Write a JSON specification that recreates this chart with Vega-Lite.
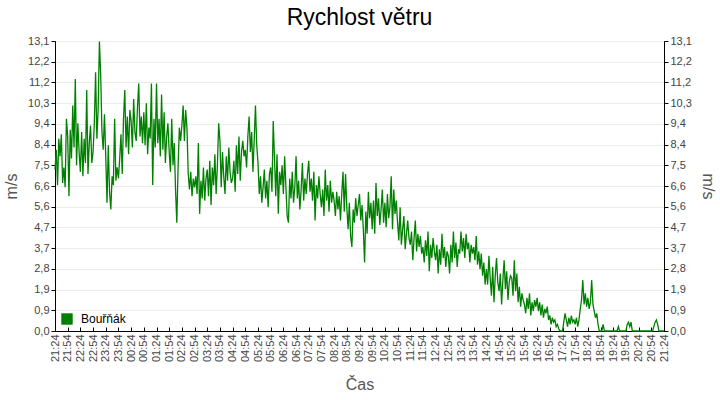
{
"$schema": "https://vega.github.io/schema/vega-lite/v6.json",
"width": 609,
"height": 290,
"autosize": {"type": "none"},
"padding": {"left": 55, "top": 41, "right": 56, "bottom": 69},
"background": "white",
"title": {"text": "Rychlost větru", "font": "Liberation Sans", "fontSize": 23, "fontWeight": "normal", "color": "#000000", "offset": 5},
"config": {
  "view": {"stroke": "#000000", "strokeWidth": 1},
  "axis": {"labelFont": "Liberation Sans", "labelFontSize": 11, "labelColor": "#444444", "titleFont": "Liberation Sans", "titleFontSize": 16, "titleFontWeight": "normal", "titleColor": "#555555", "domainColor": "#000000", "tickColor": "#000000", "gridColor": "#ebebeb"},
  "axisX": {"labelOverlap": false}
},
"data": {"values": [
{"t":"2024-06-15T21:24","v":7.3},{"t":"2024-06-15T21:27","v":8.2},{"t":"2024-06-15T21:30","v":6.6},{"t":"2024-06-15T21:33","v":8.7},{"t":"2024-06-15T21:36","v":7.9},{"t":"2024-06-15T21:39","v":8.9},{"t":"2024-06-15T21:42","v":6.7},{"t":"2024-06-15T21:45","v":7.4},{"t":"2024-06-15T21:48","v":6.5},{"t":"2024-06-15T21:51","v":9.6},
{"t":"2024-06-15T21:54","v":8.8},{"t":"2024-06-15T21:57","v":6.1},{"t":"2024-06-15T22:00","v":9.1},{"t":"2024-06-15T22:03","v":7.8},{"t":"2024-06-15T22:06","v":10.2},{"t":"2024-06-15T22:09","v":8.3},{"t":"2024-06-15T22:12","v":11.4},{"t":"2024-06-15T22:15","v":7.5},{"t":"2024-06-15T22:18","v":9.4},{"t":"2024-06-15T22:21","v":8.1},
{"t":"2024-06-15T22:24","v":7.2},{"t":"2024-06-15T22:27","v":9.0},{"t":"2024-06-15T22:30","v":7.0},{"t":"2024-06-15T22:33","v":8.7},{"t":"2024-06-15T22:36","v":7.6},{"t":"2024-06-15T22:39","v":10.9},{"t":"2024-06-15T22:42","v":7.1},{"t":"2024-06-15T22:45","v":8.5},{"t":"2024-06-15T22:48","v":9.3},{"t":"2024-06-15T22:51","v":7.6},
{"t":"2024-06-15T22:54","v":8.1},{"t":"2024-06-15T22:57","v":9.4},{"t":"2024-06-15T23:00","v":11.7},{"t":"2024-06-15T23:03","v":8.7},{"t":"2024-06-15T23:06","v":10.0},{"t":"2024-06-15T23:09","v":13.1},{"t":"2024-06-15T23:12","v":11.6},{"t":"2024-06-15T23:15","v":9.0},{"t":"2024-06-15T23:18","v":8.2},{"t":"2024-06-15T23:21","v":9.8},
{"t":"2024-06-15T23:24","v":7.9},{"t":"2024-06-15T23:27","v":5.8},{"t":"2024-06-15T23:30","v":8.4},{"t":"2024-06-15T23:33","v":6.3},{"t":"2024-06-15T23:36","v":5.5},{"t":"2024-06-15T23:39","v":7.0},{"t":"2024-06-15T23:42","v":6.6},{"t":"2024-06-15T23:45","v":9.6},{"t":"2024-06-15T23:48","v":6.8},{"t":"2024-06-15T23:51","v":7.4},
{"t":"2024-06-15T23:54","v":6.9},{"t":"2024-06-15T23:57","v":7.8},{"t":"2024-06-16T00:00","v":8.9},{"t":"2024-06-16T00:03","v":7.1},{"t":"2024-06-16T00:06","v":9.6},{"t":"2024-06-16T00:09","v":10.9},{"t":"2024-06-16T00:12","v":8.3},{"t":"2024-06-16T00:15","v":9.7},{"t":"2024-06-16T00:18","v":8.0},{"t":"2024-06-16T00:21","v":10.0},
{"t":"2024-06-16T00:24","v":9.5},{"t":"2024-06-16T00:27","v":8.3},{"t":"2024-06-16T00:30","v":10.5},{"t":"2024-06-16T00:33","v":9.0},{"t":"2024-06-16T00:36","v":8.6},{"t":"2024-06-16T00:39","v":10.1},{"t":"2024-06-16T00:42","v":11.2},{"t":"2024-06-16T00:45","v":8.8},{"t":"2024-06-16T00:48","v":9.7},{"t":"2024-06-16T00:51","v":8.5},
{"t":"2024-06-16T00:54","v":9.9},{"t":"2024-06-16T00:57","v":8.4},{"t":"2024-06-16T01:00","v":10.3},{"t":"2024-06-16T01:03","v":8.0},{"t":"2024-06-16T01:06","v":9.2},{"t":"2024-06-16T01:09","v":8.7},{"t":"2024-06-16T01:12","v":11.2},{"t":"2024-06-16T01:15","v":6.6},{"t":"2024-06-16T01:18","v":9.6},{"t":"2024-06-16T01:21","v":8.3},
{"t":"2024-06-16T01:24","v":11.2},{"t":"2024-06-16T01:27","v":8.5},{"t":"2024-06-16T01:30","v":9.6},{"t":"2024-06-16T01:33","v":7.9},{"t":"2024-06-16T01:36","v":10.7},{"t":"2024-06-16T01:39","v":8.2},{"t":"2024-06-16T01:42","v":9.9},{"t":"2024-06-16T01:45","v":7.6},{"t":"2024-06-16T01:48","v":8.8},{"t":"2024-06-16T01:51","v":9.4},
{"t":"2024-06-16T01:54","v":8.1},{"t":"2024-06-16T01:57","v":7.2},{"t":"2024-06-16T02:00","v":9.6},{"t":"2024-06-16T02:03","v":7.5},{"t":"2024-06-16T02:06","v":8.5},{"t":"2024-06-16T02:09","v":6.4},{"t":"2024-06-16T02:12","v":4.9},{"t":"2024-06-16T02:15","v":7.4},{"t":"2024-06-16T02:18","v":9.2},{"t":"2024-06-16T02:21","v":8.6},
{"t":"2024-06-16T02:24","v":9.3},{"t":"2024-06-16T02:27","v":10.2},{"t":"2024-06-16T02:30","v":8.6},{"t":"2024-06-16T02:33","v":10.0},{"t":"2024-06-16T02:36","v":9.2},{"t":"2024-06-16T02:39","v":7.1},{"t":"2024-06-16T02:42","v":6.4},{"t":"2024-06-16T02:45","v":7.2},{"t":"2024-06-16T02:48","v":6.1},{"t":"2024-06-16T02:51","v":6.9},
{"t":"2024-06-16T02:54","v":6.5},{"t":"2024-06-16T02:57","v":7.0},{"t":"2024-06-16T03:00","v":6.2},{"t":"2024-06-16T03:03","v":8.5},{"t":"2024-06-16T03:06","v":5.3},{"t":"2024-06-16T03:09","v":6.8},{"t":"2024-06-16T03:12","v":6.0},{"t":"2024-06-16T03:15","v":7.4},{"t":"2024-06-16T03:18","v":5.9},{"t":"2024-06-16T03:21","v":6.9},
{"t":"2024-06-16T03:24","v":7.3},{"t":"2024-06-16T03:27","v":6.1},{"t":"2024-06-16T03:30","v":7.7},{"t":"2024-06-16T03:33","v":5.7},{"t":"2024-06-16T03:36","v":7.4},{"t":"2024-06-16T03:39","v":6.6},{"t":"2024-06-16T03:42","v":8.0},{"t":"2024-06-16T03:45","v":6.2},{"t":"2024-06-16T03:48","v":7.5},{"t":"2024-06-16T03:51","v":9.4},
{"t":"2024-06-16T03:54","v":8.6},{"t":"2024-06-16T03:57","v":6.5},{"t":"2024-06-16T04:00","v":8.1},{"t":"2024-06-16T04:03","v":7.0},{"t":"2024-06-16T04:06","v":6.2},{"t":"2024-06-16T04:09","v":7.9},{"t":"2024-06-16T04:12","v":6.8},{"t":"2024-06-16T04:15","v":8.3},{"t":"2024-06-16T04:18","v":7.2},{"t":"2024-06-16T04:21","v":6.7},
{"t":"2024-06-16T04:24","v":6.9},{"t":"2024-06-16T04:27","v":7.7},{"t":"2024-06-16T04:30","v":6.3},{"t":"2024-06-16T04:33","v":8.4},{"t":"2024-06-16T04:36","v":7.1},{"t":"2024-06-16T04:39","v":8.8},{"t":"2024-06-16T04:42","v":6.8},{"t":"2024-06-16T04:45","v":8.1},{"t":"2024-06-16T04:48","v":8.6},{"t":"2024-06-16T04:51","v":7.9},
{"t":"2024-06-16T04:54","v":8.2},{"t":"2024-06-16T04:57","v":7.4},{"t":"2024-06-16T05:00","v":8.8},{"t":"2024-06-16T05:03","v":9.7},{"t":"2024-06-16T05:06","v":8.1},{"t":"2024-06-16T05:09","v":9.0},{"t":"2024-06-16T05:12","v":7.2},{"t":"2024-06-16T05:15","v":8.6},{"t":"2024-06-16T05:18","v":10.2},{"t":"2024-06-16T05:21","v":8.4},
{"t":"2024-06-16T05:24","v":7.6},{"t":"2024-06-16T05:27","v":6.2},{"t":"2024-06-16T05:30","v":7.0},{"t":"2024-06-16T05:33","v":5.8},{"t":"2024-06-16T05:36","v":6.5},{"t":"2024-06-16T05:39","v":7.3},{"t":"2024-06-16T05:42","v":6.0},{"t":"2024-06-16T05:45","v":6.8},{"t":"2024-06-16T05:48","v":5.6},{"t":"2024-06-16T05:51","v":7.1},
{"t":"2024-06-16T05:54","v":7.4},{"t":"2024-06-16T05:57","v":6.3},{"t":"2024-06-16T06:00","v":9.5},{"t":"2024-06-16T06:03","v":7.8},{"t":"2024-06-16T06:06","v":6.1},{"t":"2024-06-16T06:09","v":8.0},{"t":"2024-06-16T06:12","v":5.3},{"t":"2024-06-16T06:15","v":7.2},{"t":"2024-06-16T06:18","v":6.6},{"t":"2024-06-16T06:21","v":7.5},
{"t":"2024-06-16T06:24","v":6.2},{"t":"2024-06-16T06:27","v":7.9},{"t":"2024-06-16T06:30","v":6.5},{"t":"2024-06-16T06:33","v":5.2},{"t":"2024-06-16T06:36","v":4.9},{"t":"2024-06-16T06:39","v":6.9},{"t":"2024-06-16T06:42","v":6.0},{"t":"2024-06-16T06:45","v":7.2},{"t":"2024-06-16T06:48","v":5.8},{"t":"2024-06-16T06:51","v":6.5},
{"t":"2024-06-16T06:54","v":7.9},{"t":"2024-06-16T06:57","v":6.0},{"t":"2024-06-16T07:00","v":6.8},{"t":"2024-06-16T07:03","v":5.5},{"t":"2024-06-16T07:06","v":6.4},{"t":"2024-06-16T07:09","v":7.6},{"t":"2024-06-16T07:12","v":5.9},{"t":"2024-06-16T07:15","v":6.9},{"t":"2024-06-16T07:18","v":6.2},{"t":"2024-06-16T07:21","v":7.1},
{"t":"2024-06-16T07:24","v":7.7},{"t":"2024-06-16T07:27","v":6.3},{"t":"2024-06-16T07:30","v":6.9},{"t":"2024-06-16T07:33","v":5.9},{"t":"2024-06-16T07:36","v":7.2},{"t":"2024-06-16T07:39","v":5.0},{"t":"2024-06-16T07:42","v":6.6},{"t":"2024-06-16T07:45","v":6.0},{"t":"2024-06-16T07:48","v":7.0},{"t":"2024-06-16T07:51","v":6.2},
{"t":"2024-06-16T07:54","v":5.6},{"t":"2024-06-16T07:57","v":6.4},{"t":"2024-06-16T08:00","v":5.2},{"t":"2024-06-16T08:03","v":7.3},{"t":"2024-06-16T08:06","v":5.9},{"t":"2024-06-16T08:09","v":6.6},{"t":"2024-06-16T08:12","v":5.4},{"t":"2024-06-16T08:15","v":6.8},{"t":"2024-06-16T08:18","v":5.8},{"t":"2024-06-16T08:21","v":6.3},
{"t":"2024-06-16T08:24","v":5.9},{"t":"2024-06-16T08:27","v":5.2},{"t":"2024-06-16T08:30","v":6.3},{"t":"2024-06-16T08:33","v":5.5},{"t":"2024-06-16T08:36","v":6.1},{"t":"2024-06-16T08:39","v":5.0},{"t":"2024-06-16T08:42","v":6.2},{"t":"2024-06-16T08:45","v":7.2},{"t":"2024-06-16T08:48","v":5.4},{"t":"2024-06-16T08:51","v":7.1},
{"t":"2024-06-16T08:54","v":5.6},{"t":"2024-06-16T08:57","v":4.6},{"t":"2024-06-16T09:00","v":5.8},{"t":"2024-06-16T09:03","v":4.3},{"t":"2024-06-16T09:06","v":3.8},{"t":"2024-06-16T09:09","v":5.5},{"t":"2024-06-16T09:12","v":4.9},{"t":"2024-06-16T09:15","v":6.0},{"t":"2024-06-16T09:18","v":5.2},{"t":"2024-06-16T09:21","v":5.7},
{"t":"2024-06-16T09:24","v":6.2},{"t":"2024-06-16T09:27","v":5.0},{"t":"2024-06-16T09:30","v":5.7},{"t":"2024-06-16T09:33","v":4.6},{"t":"2024-06-16T09:36","v":3.1},{"t":"2024-06-16T09:39","v":5.4},{"t":"2024-06-16T09:42","v":4.4},{"t":"2024-06-16T09:45","v":6.3},{"t":"2024-06-16T09:48","v":5.1},{"t":"2024-06-16T09:51","v":5.8},
{"t":"2024-06-16T09:54","v":4.6},{"t":"2024-06-16T09:57","v":5.9},{"t":"2024-06-16T10:00","v":4.4},{"t":"2024-06-16T10:03","v":6.7},{"t":"2024-06-16T10:06","v":5.2},{"t":"2024-06-16T10:09","v":6.0},{"t":"2024-06-16T10:12","v":4.8},{"t":"2024-06-16T10:15","v":5.5},{"t":"2024-06-16T10:18","v":6.4},{"t":"2024-06-16T10:21","v":4.9},
{"t":"2024-06-16T10:24","v":5.8},{"t":"2024-06-16T10:27","v":4.7},{"t":"2024-06-16T10:30","v":6.2},{"t":"2024-06-16T10:33","v":5.1},{"t":"2024-06-16T10:36","v":5.6},{"t":"2024-06-16T10:39","v":7.0},{"t":"2024-06-16T10:42","v":4.6},{"t":"2024-06-16T10:45","v":6.4},{"t":"2024-06-16T10:48","v":5.3},{"t":"2024-06-16T10:51","v":5.9},
{"t":"2024-06-16T10:54","v":4.9},{"t":"2024-06-16T10:57","v":4.1},{"t":"2024-06-16T11:00","v":5.6},{"t":"2024-06-16T11:03","v":3.9},{"t":"2024-06-16T11:06","v":4.6},{"t":"2024-06-16T11:09","v":5.2},{"t":"2024-06-16T11:12","v":3.7},{"t":"2024-06-16T11:15","v":4.4},{"t":"2024-06-16T11:18","v":5.0},{"t":"2024-06-16T11:21","v":4.2},
{"t":"2024-06-16T11:24","v":3.9},{"t":"2024-06-16T11:27","v":4.5},{"t":"2024-06-16T11:30","v":3.2},{"t":"2024-06-16T11:33","v":4.2},{"t":"2024-06-16T11:36","v":5.0},{"t":"2024-06-16T11:39","v":3.6},{"t":"2024-06-16T11:42","v":4.4},{"t":"2024-06-16T11:45","v":3.8},{"t":"2024-06-16T11:48","v":4.3},{"t":"2024-06-16T11:51","v":3.5},
{"t":"2024-06-16T11:54","v":3.8},{"t":"2024-06-16T11:57","v":3.1},{"t":"2024-06-16T12:00","v":4.1},{"t":"2024-06-16T12:03","v":3.4},{"t":"2024-06-16T12:06","v":4.5},{"t":"2024-06-16T12:09","v":2.7},{"t":"2024-06-16T12:12","v":3.9},{"t":"2024-06-16T12:15","v":3.3},{"t":"2024-06-16T12:18","v":4.2},{"t":"2024-06-16T12:21","v":3.6},
{"t":"2024-06-16T12:24","v":3.2},{"t":"2024-06-16T12:27","v":3.9},{"t":"2024-06-16T12:30","v":2.6},{"t":"2024-06-16T12:33","v":3.7},{"t":"2024-06-16T12:36","v":3.0},{"t":"2024-06-16T12:39","v":4.4},{"t":"2024-06-16T12:42","v":3.3},{"t":"2024-06-16T12:45","v":3.8},{"t":"2024-06-16T12:48","v":2.9},{"t":"2024-06-16T12:51","v":3.6},
{"t":"2024-06-16T12:54","v":3.4},{"t":"2024-06-16T12:57","v":2.6},{"t":"2024-06-16T13:00","v":3.9},{"t":"2024-06-16T13:03","v":3.1},{"t":"2024-06-16T13:06","v":4.5},{"t":"2024-06-16T13:09","v":3.3},{"t":"2024-06-16T13:12","v":4.0},{"t":"2024-06-16T13:15","v":2.9},{"t":"2024-06-16T13:18","v":3.7},{"t":"2024-06-16T13:21","v":3.5},
{"t":"2024-06-16T13:24","v":4.5},{"t":"2024-06-16T13:27","v":3.6},{"t":"2024-06-16T13:30","v":4.2},{"t":"2024-06-16T13:33","v":3.3},{"t":"2024-06-16T13:36","v":4.4},{"t":"2024-06-16T13:39","v":3.7},{"t":"2024-06-16T13:42","v":4.0},{"t":"2024-06-16T13:45","v":3.1},{"t":"2024-06-16T13:48","v":3.9},{"t":"2024-06-16T13:51","v":3.5},
{"t":"2024-06-16T13:54","v":3.8},{"t":"2024-06-16T13:57","v":3.2},{"t":"2024-06-16T14:00","v":4.3},{"t":"2024-06-16T14:03","v":3.0},{"t":"2024-06-16T14:06","v":3.6},{"t":"2024-06-16T14:09","v":2.8},{"t":"2024-06-16T14:12","v":3.5},{"t":"2024-06-16T14:15","v":2.5},{"t":"2024-06-16T14:18","v":3.1},{"t":"2024-06-16T14:21","v":2.1},
{"t":"2024-06-16T14:24","v":2.8},{"t":"2024-06-16T14:27","v":2.1},{"t":"2024-06-16T14:30","v":3.4},{"t":"2024-06-16T14:33","v":2.4},{"t":"2024-06-16T14:36","v":1.6},{"t":"2024-06-16T14:39","v":2.9},{"t":"2024-06-16T14:42","v":1.3},{"t":"2024-06-16T14:45","v":2.5},{"t":"2024-06-16T14:48","v":3.3},{"t":"2024-06-16T14:51","v":2.2},
{"t":"2024-06-16T14:54","v":1.8},{"t":"2024-06-16T14:57","v":2.6},{"t":"2024-06-16T15:00","v":1.2},{"t":"2024-06-16T15:03","v":2.3},{"t":"2024-06-16T15:06","v":3.2},{"t":"2024-06-16T15:09","v":1.9},{"t":"2024-06-16T15:12","v":2.7},{"t":"2024-06-16T15:15","v":1.4},{"t":"2024-06-16T15:18","v":2.2},{"t":"2024-06-16T15:21","v":2.5},
{"t":"2024-06-16T15:24","v":2.4},{"t":"2024-06-16T15:27","v":1.6},{"t":"2024-06-16T15:30","v":3.2},{"t":"2024-06-16T15:33","v":1.8},{"t":"2024-06-16T15:36","v":2.6},{"t":"2024-06-16T15:39","v":1.3},{"t":"2024-06-16T15:42","v":2.0},{"t":"2024-06-16T15:45","v":1.1},{"t":"2024-06-16T15:48","v":1.7},{"t":"2024-06-16T15:51","v":1.4},
{"t":"2024-06-16T15:54","v":1.2},{"t":"2024-06-16T15:57","v":0.8},{"t":"2024-06-16T16:00","v":1.5},{"t":"2024-06-16T16:03","v":1.0},{"t":"2024-06-16T16:06","v":1.7},{"t":"2024-06-16T16:09","v":0.7},{"t":"2024-06-16T16:12","v":1.3},{"t":"2024-06-16T16:15","v":0.9},{"t":"2024-06-16T16:18","v":1.4},{"t":"2024-06-16T16:21","v":1.1},
{"t":"2024-06-16T16:24","v":1.5},{"t":"2024-06-16T16:27","v":0.9},{"t":"2024-06-16T16:30","v":1.3},{"t":"2024-06-16T16:33","v":0.7},{"t":"2024-06-16T16:36","v":1.2},{"t":"2024-06-16T16:39","v":0.6},{"t":"2024-06-16T16:42","v":1.0},{"t":"2024-06-16T16:45","v":0.8},{"t":"2024-06-16T16:48","v":1.1},{"t":"2024-06-16T16:51","v":0.5},
{"t":"2024-06-16T16:54","v":0.7},{"t":"2024-06-16T16:57","v":0.3},{"t":"2024-06-16T17:00","v":0.6},{"t":"2024-06-16T17:03","v":0.4},{"t":"2024-06-16T17:06","v":0.5},{"t":"2024-06-16T17:09","v":0.2},{"t":"2024-06-16T17:12","v":0.3},{"t":"2024-06-16T17:15","v":0.1},{"t":"2024-06-16T17:18","v":0.0},{"t":"2024-06-16T17:21","v":0.0},
{"t":"2024-06-16T17:24","v":0.0},{"t":"2024-06-16T17:27","v":0.4},{"t":"2024-06-16T17:30","v":0.8},{"t":"2024-06-16T17:33","v":0.5},{"t":"2024-06-16T17:36","v":0.2},{"t":"2024-06-16T17:39","v":0.6},{"t":"2024-06-16T17:42","v":0.3},{"t":"2024-06-16T17:45","v":0.7},{"t":"2024-06-16T17:48","v":0.4},{"t":"2024-06-16T17:51","v":0.5},
{"t":"2024-06-16T17:54","v":0.3},{"t":"2024-06-16T17:57","v":0.6},{"t":"2024-06-16T18:00","v":0.2},{"t":"2024-06-16T18:03","v":0.5},{"t":"2024-06-16T18:06","v":1.0},{"t":"2024-06-16T18:09","v":1.4},{"t":"2024-06-16T18:12","v":2.3},{"t":"2024-06-16T18:15","v":1.2},{"t":"2024-06-16T18:18","v":1.7},{"t":"2024-06-16T18:21","v":1.1},
{"t":"2024-06-16T18:24","v":1.5},{"t":"2024-06-16T18:27","v":1.0},{"t":"2024-06-16T18:30","v":1.3},{"t":"2024-06-16T18:33","v":2.3},{"t":"2024-06-16T18:36","v":1.2},{"t":"2024-06-16T18:39","v":0.9},{"t":"2024-06-16T18:42","v":0.6},{"t":"2024-06-16T18:45","v":0.8},{"t":"2024-06-16T18:48","v":0.3},{"t":"2024-06-16T18:51","v":0.0},
{"t":"2024-06-16T18:54","v":0.0},{"t":"2024-06-16T18:57","v":0.0},{"t":"2024-06-16T19:00","v":0.3},{"t":"2024-06-16T19:03","v":0.0},{"t":"2024-06-16T19:06","v":0.0},{"t":"2024-06-16T19:09","v":0.0},{"t":"2024-06-16T19:12","v":0.0},{"t":"2024-06-16T19:15","v":0.0},{"t":"2024-06-16T19:18","v":0.0},{"t":"2024-06-16T19:21","v":0.0},
{"t":"2024-06-16T19:24","v":0.0},{"t":"2024-06-16T19:27","v":0.0},{"t":"2024-06-16T19:30","v":0.0},{"t":"2024-06-16T19:33","v":0.0},{"t":"2024-06-16T19:36","v":0.2},{"t":"2024-06-16T19:39","v":0.0},{"t":"2024-06-16T19:42","v":0.0},{"t":"2024-06-16T19:45","v":0.0},{"t":"2024-06-16T19:48","v":0.0},{"t":"2024-06-16T19:51","v":0.0},
{"t":"2024-06-16T19:54","v":0.0},{"t":"2024-06-16T19:57","v":0.3},{"t":"2024-06-16T20:00","v":0.4},{"t":"2024-06-16T20:03","v":0.2},{"t":"2024-06-16T20:06","v":0.4},{"t":"2024-06-16T20:09","v":0.0},{"t":"2024-06-16T20:12","v":0.0},{"t":"2024-06-16T20:15","v":0.0},{"t":"2024-06-16T20:18","v":0.0},{"t":"2024-06-16T20:21","v":0.0},
{"t":"2024-06-16T20:24","v":0.0},{"t":"2024-06-16T20:27","v":0.0},{"t":"2024-06-16T20:30","v":0.0},{"t":"2024-06-16T20:33","v":0.0},{"t":"2024-06-16T20:36","v":0.0},{"t":"2024-06-16T20:39","v":0.0},{"t":"2024-06-16T20:42","v":0.0},{"t":"2024-06-16T20:45","v":0.0},{"t":"2024-06-16T20:48","v":0.0},{"t":"2024-06-16T20:51","v":0.0},
{"t":"2024-06-16T20:54","v":0.0},{"t":"2024-06-16T20:57","v":0.0},{"t":"2024-06-16T21:00","v":0.2},{"t":"2024-06-16T21:03","v":0.4},{"t":"2024-06-16T21:06","v":0.5},{"t":"2024-06-16T21:09","v":0.3},{"t":"2024-06-16T21:12","v":0.0},{"t":"2024-06-16T21:15","v":0.0},{"t":"2024-06-16T21:18","v":0.0},{"t":"2024-06-16T21:21","v":0.0},
{"t":"2024-06-16T21:24","v":0.0}
]},
"encoding": {
  "x": {"field": "t", "type": "temporal", "scale": {"nice": false},
    "axis": {"title": "Čas", "format": "%H:%M", "labelAngle": 270, "grid": false, "tickSize": -4, "labelPadding": 7, "labelOverlap": false, "labelBound": false, "labelFlush": false, "titlePadding": 15,
      "values": [
        {"year":2024,"month":6,"date":15,"hours":21,"minutes":24},{"year":2024,"month":6,"date":15,"hours":21,"minutes":54},
        {"year":2024,"month":6,"date":15,"hours":22,"minutes":24},{"year":2024,"month":6,"date":15,"hours":22,"minutes":54},
        {"year":2024,"month":6,"date":15,"hours":23,"minutes":24},{"year":2024,"month":6,"date":15,"hours":23,"minutes":54},
        {"year":2024,"month":6,"date":16,"hours":0,"minutes":24},{"year":2024,"month":6,"date":16,"hours":0,"minutes":54},
        {"year":2024,"month":6,"date":16,"hours":1,"minutes":24},{"year":2024,"month":6,"date":16,"hours":1,"minutes":54},
        {"year":2024,"month":6,"date":16,"hours":2,"minutes":24},{"year":2024,"month":6,"date":16,"hours":2,"minutes":54},
        {"year":2024,"month":6,"date":16,"hours":3,"minutes":24},{"year":2024,"month":6,"date":16,"hours":3,"minutes":54},
        {"year":2024,"month":6,"date":16,"hours":4,"minutes":24},{"year":2024,"month":6,"date":16,"hours":4,"minutes":54},
        {"year":2024,"month":6,"date":16,"hours":5,"minutes":24},{"year":2024,"month":6,"date":16,"hours":5,"minutes":54},
        {"year":2024,"month":6,"date":16,"hours":6,"minutes":24},{"year":2024,"month":6,"date":16,"hours":6,"minutes":54},
        {"year":2024,"month":6,"date":16,"hours":7,"minutes":24},{"year":2024,"month":6,"date":16,"hours":7,"minutes":54},
        {"year":2024,"month":6,"date":16,"hours":8,"minutes":24},{"year":2024,"month":6,"date":16,"hours":8,"minutes":54},
        {"year":2024,"month":6,"date":16,"hours":9,"minutes":24},{"year":2024,"month":6,"date":16,"hours":9,"minutes":54},
        {"year":2024,"month":6,"date":16,"hours":10,"minutes":24},{"year":2024,"month":6,"date":16,"hours":10,"minutes":54},
        {"year":2024,"month":6,"date":16,"hours":11,"minutes":24},{"year":2024,"month":6,"date":16,"hours":11,"minutes":54},
        {"year":2024,"month":6,"date":16,"hours":12,"minutes":24},{"year":2024,"month":6,"date":16,"hours":12,"minutes":54},
        {"year":2024,"month":6,"date":16,"hours":13,"minutes":24},{"year":2024,"month":6,"date":16,"hours":13,"minutes":54},
        {"year":2024,"month":6,"date":16,"hours":14,"minutes":24},{"year":2024,"month":6,"date":16,"hours":14,"minutes":54},
        {"year":2024,"month":6,"date":16,"hours":15,"minutes":24},{"year":2024,"month":6,"date":16,"hours":15,"minutes":54},
        {"year":2024,"month":6,"date":16,"hours":16,"minutes":24},{"year":2024,"month":6,"date":16,"hours":16,"minutes":54},
        {"year":2024,"month":6,"date":16,"hours":17,"minutes":24},{"year":2024,"month":6,"date":16,"hours":17,"minutes":54},
        {"year":2024,"month":6,"date":16,"hours":18,"minutes":24},{"year":2024,"month":6,"date":16,"hours":18,"minutes":54},
        {"year":2024,"month":6,"date":16,"hours":19,"minutes":24},{"year":2024,"month":6,"date":16,"hours":19,"minutes":54},
        {"year":2024,"month":6,"date":16,"hours":20,"minutes":24},{"year":2024,"month":6,"date":16,"hours":20,"minutes":54},
        {"year":2024,"month":6,"date":16,"hours":21,"minutes":24}
      ]}}
},
"layer": [
  {
    "mark": {"type": "line", "strokeWidth": 1.3},
    "encoding": {
      "y": {"field": "v", "type": "quantitative", "scale": {"domain": [0, 13.12], "nice": false, "zero": true},
        "axis": {"orient": "left", "title": "m/s", "grid": true, "tickSize": 4, "labelPadding": 2, "titlePadding": 8,
          "values": [0, 0.937143, 1.874286, 2.811429, 3.748571, 4.685714, 5.622857, 6.56, 7.497143, 8.434286, 9.371429, 10.308571, 11.245714, 12.182857, 13.12],
          "labelExpr": "replace(format(datum.value, '.1f'), '.', ',')"}},
      "color": {"datum": "Bouřňák", "type": "nominal", "scale": {"range": ["#008000"]},
        "legend": {"orient": "bottom-left", "title": null, "offset": 6, "padding": 0, "symbolType": "square", "symbolSize": 130, "labelFont": "Liberation Sans", "labelFontSize": 12, "labelColor": "#000000", "labelOffset": 8,
          "encode": {"symbols": {"update": {"fill": {"value": "#008000"}, "stroke": {"value": "#008000"}, "strokeWidth": {"value": 0}, "opacity": {"value": 1}}}}}}
    }
  },
  {
    "mark": {"type": "line", "strokeOpacity": 0},
    "encoding": {
      "y": {"field": "v", "type": "quantitative",
        "axis": {"orient": "right", "title": "m/s", "grid": false, "tickSize": 4, "labelPadding": 2, "titlePadding": 8,
          "values": [0, 0.937143, 1.874286, 2.811429, 3.748571, 4.685714, 5.622857, 6.56, 7.497143, 8.434286, 9.371429, 10.308571, 11.245714, 12.182857, 13.12],
          "labelExpr": "replace(format(datum.value, '.1f'), '.', ',')"}}
    }
  }
],
"resolve": {"axis": {"y": "independent"}}
}
